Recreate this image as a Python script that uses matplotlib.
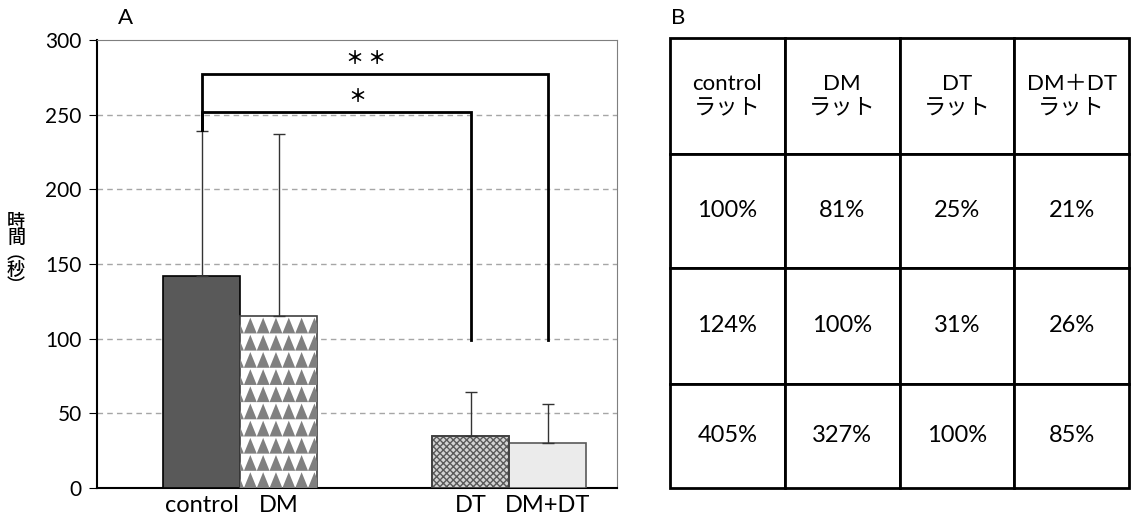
import matplotlib
matplotlib.use("Agg")
import matplotlib.pyplot as plt
from matplotlib.patches import Polygon

plt.rcParams['font.family'] = ['Lato', 'Noto Sans CJK JP', 'DejaVu Sans']

# データ
groups = ["control", "DM", "DT", "DM+DT"]
positions = [0, 1, 3.5, 4.5]
means = [142, 115, 35, 30]
sd_upper = [97, 122, 29, 26]
y_ticks = [0, 50, 100, 150, 200, 250, 300]

# 有意差 (左端, 右端, 高さ, 記号, 記号の x)
sig_pairs = [(0, 3.5, 252, "＊", 2.03), (0, 4.5, 277, "＊ ＊", 2.14)]
sig_left_bottom = 240
sig_right_bottom = 99

table_header = ["control\nラット", "DM\nラット", "DT\nラット", "DM＋DT\nラット"]
table_rows = [
    ["100%", "81%", "25%", "21%"],
    ["124%", "100%", "31%", "26%"],
    ["405%", "327%", "100%", "85%"],
]
row_px = [115, 114, 115, 104]

fig = plt.figure(figsize=(11.31, 5.26), dpi=100)

# ---- A: 棒グラフ ----
ax = fig.add_axes([97/1131, 38/526, 520/1131, 448/526])
faces = ["#595959", "white", "#d4d4d4", "#ebebeb"]
edges = ["black", "#404040", "#404040", "#595959"]
bars = ax.bar(positions, means, width=1.0, color=faces, edgecolor=edges,
              linewidth=1.2, zorder=3)
# DT の細かい網目
ax.bar(positions[2], means[2], width=1.0, facecolor="none", edgecolor="#5a5a5a",
       hatch="xxxxx", linewidth=0, zorder=3.5)
ax.bar(positions[2], means[2], width=1.0, facecolor="none", edgecolor="#404040",
       linewidth=1.2, zorder=3.6)

# DM の三角模様
b = bars[1]
bx, bw, bh = b.get_x(), b.get_width(), b.get_height()
nrow, ncol = 10, 6
rh, cw = bh / nrow, bw / ncol
for r in range(nrow):
    y0 = bh - (r + 1) * rh
    for c in range(-1, ncol + 1):
        x0 = bx + c * cw + cw * 0.3
        tri = Polygon([[x0, y0], [x0 + cw, y0], [x0 + cw / 2, y0 + rh * 0.92]],
                      closed=True, facecolor="#808080", edgecolor="none", zorder=3.2)
        ax.add_patch(tri)
        tri.set_clip_path(b)

ax.errorbar(positions, means, yerr=[[0] * 4, sd_upper], fmt="none",
            ecolor="#333333", elinewidth=1.0, capsize=4, capthick=1.0, zorder=4)

for x1, x2, y, label, lx in sig_pairs:
    ax.plot([x1, x1, x2, x2], [sig_left_bottom, y, y, sig_right_bottom],
            color="black", lw=2, zorder=5, solid_joinstyle="miter")
    ax.text(lx, y + 4, label, ha="center", va="bottom",
            fontsize=13, fontweight="bold", family=["Noto Sans CJK JP"])

ax.set_xlim(-1.36, 5.4)
ax.set_ylim(0, 300)
ax.set_yticks(y_ticks)
ax.tick_params(axis="y", labelsize=15, length=6, pad=5, direction="out", width=0.8)
ax.set_xticks(positions)
ax.set_xticklabels(groups, fontsize=17)
ax.tick_params(axis="x", length=0, pad=5)
for t in y_ticks[1:-1]:
    ax.axhline(t, color="#a6a6a6", lw=1, ls=(0, (4, 3)), zorder=1)
ax.spines["top"].set_color("#7f7f7f")
ax.spines["right"].set_color("#7f7f7f")
ax.spines["left"].set_linewidth(1.5)
ax.spines["bottom"].set_linewidth(1.5)

fig.text(16/1131, 1 - 254/526, "時\n間\n︵\n秒\n︶", ha="center", va="center",
         fontsize=13, linespacing=0.85, fontweight="medium",
         family=["Noto Sans CJK JP"])
fig.text(118/1131, 1 - 18/526, "A", fontsize=16, ha="left", va="center")
fig.text(671/1131, 1 - 18/526, "B", fontsize=16, ha="left", va="center")

# ---- B: 表 ----
ax2 = fig.add_axes([670/1131, 38/526, 459/1131, 450/526])
ax2.axis("off")
cells = [table_header] + table_rows
tbl = ax2.table(cellText=cells, cellLoc="center", bbox=[0, 0, 1, 1])
tbl.auto_set_font_size(False)
for (r, c), cell in tbl.get_celld().items():
    cell.set_height(row_px[r])
    cell.set_linewidth(2)
    cell.set_edgecolor("black")
    cell.get_text().set_fontsize(16 if r == 0 else 17)
    cell.get_text().set_linespacing(1.25)

fig.savefig("out.png", dpi=100)
